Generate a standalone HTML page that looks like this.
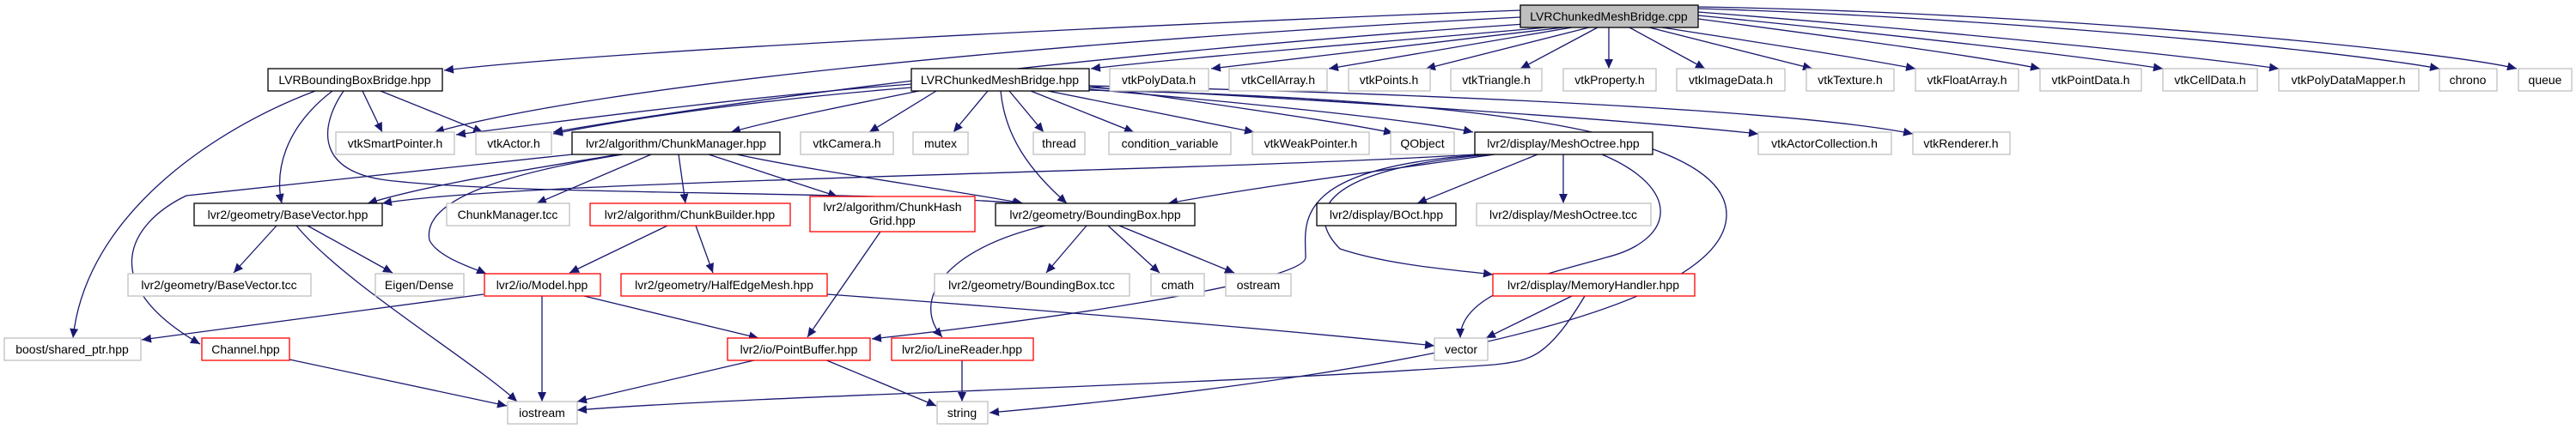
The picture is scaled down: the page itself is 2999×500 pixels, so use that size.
<!DOCTYPE html>
<html><head><meta charset="utf-8"><style>
html,body{margin:0;padding:0;background:#fff;}
svg{display:block;}
text{font-family:"Liberation Sans","DejaVu Sans",sans-serif;font-size:14px;fill:#000;text-anchor:middle;}
.g{fill:#fff;stroke:#bfbfbf;stroke-width:1.3}
.b{fill:#fff;stroke:#000;stroke-width:1.3}
.r{fill:#fff;stroke:#ff0000;stroke-width:1.3}
.e path{fill:none;stroke:#191970;stroke-width:1.3;marker-end:url(#a)}
</style></head><body>
<svg width="2999" height="500" viewBox="0 0 2999 500" xmlns="http://www.w3.org/2000/svg">
<defs><marker id="a" markerUnits="userSpaceOnUse" markerWidth="12" markerHeight="10" refX="11" refY="5" orient="auto"><path d="M0,0 L11,5 L0,10 z" fill="#191970"/></marker></defs>
<g class="e">
<path d="M1770,12 C1300,30 700,60 517,82"/>
<path d="M1770,20 C1200,50 700,100 506,154"/>
<path d="M1775,28 C1300,60 900,110 644,154"/>
<path d="M1800,32 C1600,50 1400,65 1270,80"/>
<path d="M1820,32 L1410,80"/>
<path d="M1830,32 L1547,80"/>
<path d="M1850,32 L1660,80"/>
<path d="M1860,32 L1770,80"/>
<path d="M1873,32 L1873,80"/>
<path d="M1897,32 L1985,80"/>
<path d="M1920,32 L2110,80"/>
<path d="M1935,32 C2050,50 2150,65 2230,80"/>
<path d="M1977,22 C2150,45 2300,65 2375,80"/>
<path d="M1977,18 C2200,40 2420,65 2518,80"/>
<path d="M1977,14 C2250,35 2550,65 2653,80"/>
<path d="M1977,10 C2300,20 2700,55 2840,80"/>
<path d="M1977,8 C2400,15 2850,60 2930,80"/>
<path d="M1061,98 C900,110 700,135 531,157"/>
<path d="M1061,102 C900,115 750,135 644,156"/>
<path d="M1070,106 C1000,120 900,140 851,154"/>
<path d="M1090,106 L1012,154"/>
<path d="M1150,106 L1110,154"/>
<path d="M1175,106 L1215,154"/>
<path d="M1200,106 L1320,154"/>
<path d="M1220,106 L1460,154"/>
<path d="M1268,100 C1400,120 1550,140 1622,155"/>
<path d="M1268,104 C1450,120 1650,140 1715,154"/>
<path d="M1268,102 C1600,120 1900,140 2047,156"/>
<path d="M1268,100 C1700,110 2100,130 2227,156"/>
<path d="M1165,106 C1170,160 1200,200 1242,237"/>
<path d="M1268,105 C1700,115 2010,150 2010,250 C2010,380 1500,450 1152,481"/>
<path d="M367,106 C250,150 100,250 85,394"/>
<path d="M387,106 C330,150 320,200 328,237"/>
<path d="M400,106 C370,150 370,200 450,210 C600,228 1000,222 1190,237"/>
<path d="M422,106 L445,154"/>
<path d="M443,106 L562,154"/>
<path d="M720,180 C600,200 500,215 428,237"/>
<path d="M725,180 C600,200 490,230 500,280 C510,300 550,312 566,319"/>
<path d="M758,180 L625,237"/>
<path d="M790,180 L798,237"/>
<path d="M825,180 L975,229"/>
<path d="M858,180 C950,200 1100,220 1191,237"/>
<path d="M666,180 L217,228 C150,260 110,330 233,401"/>
<path d="M1717,180 C1400,200 600,210 445,237"/>
<path d="M1740,180 C1600,200 1450,220 1360,237"/>
<path d="M1790,180 L1650,237"/>
<path d="M1820,180 L1820,237"/>
<path d="M1730,180 C1500,195 1520,260 1520,300 C1520,330 1200,375 1015,395"/>
<path d="M1735,180 C1510,200 1530,260 1560,290 C1620,310 1700,315 1738,320"/>
<path d="M1865,180 C1960,220 1950,280 1870,300 C1800,320 1700,340 1700,394"/>
<path d="M322,263 L272,318"/>
<path d="M358,263 L457,318"/>
<path d="M345,263 C400,330 550,420 602,468"/>
<path d="M777,263 L663,318"/>
<path d="M810,263 L830,318"/>
<path d="M1025,270 L940,393"/>
<path d="M1265,263 L1218,318"/>
<path d="M1290,263 L1350,318"/>
<path d="M1303,263 L1437,318"/>
<path d="M1217,263 C1100,290 1060,350 1097,393"/>
<path d="M563,343 L165,396"/>
<path d="M631,345 L631,468"/>
<path d="M680,345 L883,394"/>
<path d="M963,343 C1200,360 1500,385 1670,403"/>
<path d="M337,419 L590,473"/>
<path d="M882,419 L672,468"/>
<path d="M960,419 L1090,473"/>
<path d="M1120,420 L1120,468"/>
<path d="M1830,345 L1730,394"/>
<path d="M1845,345 C1800,420 1780,420 1740,425 C1400,450 900,460 672,478"/>
</g>
<!-- row1 -->
<rect x="1770" y="6" width="207" height="26" fill="#bfbfbf" stroke="#000" stroke-width="1.3"/><text x="1873" y="24">LVRChunkedMeshBridge.cpp</text>
<!-- row2 -->
<rect class="b" x="312" y="80" width="203" height="26"/><text x="413" y="98">LVRBoundingBoxBridge.hpp</text>
<rect class="b" x="1061" y="80" width="207" height="26"/><text x="1164" y="98">LVRChunkedMeshBridge.hpp</text>
<rect class="g" x="1292" y="80" width="115" height="26"/><text x="1349" y="98">vtkPolyData.h</text>
<rect class="g" x="1431" y="80" width="114" height="26"/><text x="1488" y="98">vtkCellArray.h</text>
<rect class="g" x="1570" y="80" width="95" height="26"/><text x="1617" y="98">vtkPoints.h</text>
<rect class="g" x="1689" y="80" width="106" height="26"/><text x="1742" y="98">vtkTriangle.h</text>
<rect class="g" x="1820" y="80" width="108" height="26"/><text x="1874" y="98">vtkProperty.h</text>
<rect class="g" x="1952" y="80" width="126" height="26"/><text x="2015" y="98">vtkImageData.h</text>
<rect class="g" x="2103" y="80" width="102" height="26"/><text x="2154" y="98">vtkTexture.h</text>
<rect class="g" x="2230" y="80" width="120" height="26"/><text x="2290" y="98">vtkFloatArray.h</text>
<rect class="g" x="2375" y="80" width="118" height="26"/><text x="2434" y="98">vtkPointData.h</text>
<rect class="g" x="2518" y="80" width="110" height="26"/><text x="2573" y="98">vtkCellData.h</text>
<rect class="g" x="2653" y="80" width="163" height="26"/><text x="2734" y="98">vtkPolyDataMapper.h</text>
<rect class="g" x="2840" y="80" width="67" height="26"/><text x="2873" y="98">chrono</text>
<rect class="g" x="2932" y="80" width="62" height="26"/><text x="2963" y="98">queue</text>
<!-- row3 -->
<rect class="g" x="391" y="154" width="138" height="26"/><text x="460" y="172">vtkSmartPointer.h</text>
<rect class="g" x="554" y="154" width="88" height="26"/><text x="598" y="172">vtkActor.h</text>
<rect class="b" x="666" y="154" width="242" height="26"/><text x="787" y="172">lvr2/algorithm/ChunkManager.hpp</text>
<rect class="g" x="932" y="154" width="108" height="26"/><text x="986" y="172">vtkCamera.h</text>
<rect class="g" x="1063" y="154" width="64" height="26"/><text x="1095" y="172">mutex</text>
<rect class="g" x="1203" y="154" width="60" height="26"/><text x="1233" y="172">thread</text>
<rect class="g" x="1291" y="154" width="142" height="26"/><text x="1362" y="172">condition_variable</text>
<rect class="g" x="1458" y="154" width="136" height="26"/><text x="1526" y="172">vtkWeakPointer.h</text>
<rect class="g" x="1619" y="154" width="74" height="26"/><text x="1656" y="172">QObject</text>
<rect class="b" x="1717" y="154" width="207" height="26"/><text x="1820" y="172">lvr2/display/MeshOctree.hpp</text>
<rect class="g" x="2047" y="154" width="155" height="26"/><text x="2124" y="172">vtkActorCollection.h</text>
<rect class="g" x="2227" y="154" width="113" height="26"/><text x="2283" y="172">vtkRenderer.h</text>
<!-- row4 -->
<rect class="b" x="226" y="237" width="219" height="26"/><text x="335" y="255">lvr2/geometry/BaseVector.hpp</text>
<rect class="g" x="520" y="237" width="143" height="26"/><text x="591" y="255">ChunkManager.tcc</text>
<rect class="r" x="687" y="237" width="233" height="26"/><text x="803" y="255">lvr2/algorithm/ChunkBuilder.hpp</text>
<rect class="r" x="943" y="229" width="192" height="41"/><text x="1039" y="246">lvr2/algorithm/ChunkHash</text><text x="1039" y="262">Grid.hpp</text>
<rect class="b" x="1159" y="237" width="232" height="26"/><text x="1275" y="255">lvr2/geometry/BoundingBox.hpp</text>
<rect class="b" x="1533" y="237" width="162" height="26"/><text x="1614" y="255">lvr2/display/BOct.hpp</text>
<rect class="g" x="1719" y="237" width="203" height="26"/><text x="1820" y="255">lvr2/display/MeshOctree.tcc</text>
<!-- row5 -->
<rect class="g" x="149" y="319" width="213" height="26"/><text x="255" y="337">lvr2/geometry/BaseVector.tcc</text>
<rect class="g" x="437" y="319" width="103" height="26"/><text x="488" y="337">Eigen/Dense</text>
<rect class="r" x="564" y="319" width="135" height="26"/><text x="631" y="337">lvr2/io/Model.hpp</text>
<rect class="r" x="723" y="319" width="240" height="26"/><text x="843" y="337">lvr2/geometry/HalfEdgeMesh.hpp</text>
<rect class="g" x="1088" y="319" width="227" height="26"/><text x="1201" y="337">lvr2/geometry/BoundingBox.tcc</text>
<rect class="g" x="1340" y="319" width="62" height="26"/><text x="1371" y="337">cmath</text>
<rect class="g" x="1427" y="319" width="76" height="26"/><text x="1465" y="337">ostream</text>
<rect class="r" x="1738" y="319" width="235" height="26"/><text x="1855" y="337">lvr2/display/MemoryHandler.hpp</text>
<!-- row6 -->
<rect class="g" x="5" y="394" width="159" height="26"/><text x="84" y="412">boost/shared_ptr.hpp</text>
<rect class="r" x="235" y="394" width="102" height="26"/><text x="286" y="412">Channel.hpp</text>
<rect class="r" x="847" y="394" width="166" height="26"/><text x="930" y="412">lvr2/io/PointBuffer.hpp</text>
<rect class="r" x="1038" y="394" width="165" height="26"/><text x="1120" y="412">lvr2/io/LineReader.hpp</text>
<rect class="g" x="1670" y="394" width="62" height="26"/><text x="1701" y="412">vector</text>
<!-- row7 -->
<rect class="g" x="591" y="468" width="81" height="26"/><text x="631" y="486">iostream</text>
<rect class="g" x="1091" y="468" width="59" height="26"/><text x="1120" y="486">string</text>
</svg>
</body></html>
